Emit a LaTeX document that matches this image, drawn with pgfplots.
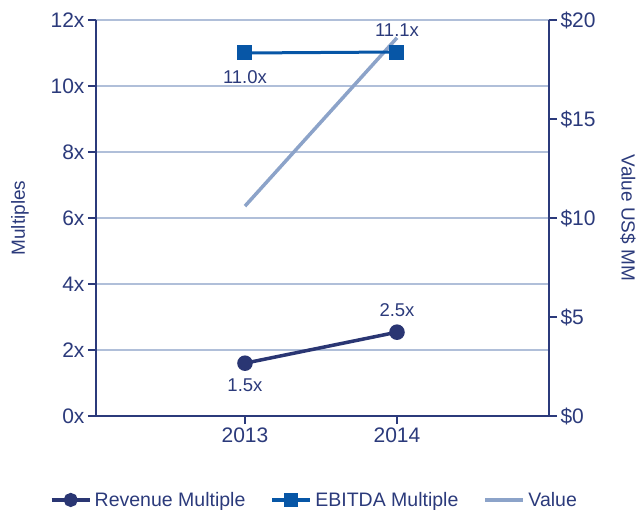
\documentclass[border=0pt]{standalone}
\usepackage{pgfplots}
\pgfplotsset{compat=1.18}
\usepackage{fontspec}
\setmainfont{Liberation Sans}
\definecolor{navy}{HTML}{2B3A7B}
\definecolor{revc}{HTML}{2A3673}
\definecolor{ebc}{HTML}{0756A6}
\definecolor{valc}{HTML}{8CA3C9}
\definecolor{gridc}{HTML}{B0BFD9}
\begin{document}
\begin{tikzpicture}
\pgfplotsset{common/.style={
  set layers, scale only axis, width=453pt, height=396pt,
  at={(0pt,0pt)}, anchor=south west,
  xmin=-0.98, xmax=2, ymin=0,
  axis line style={navy, line width=2.2pt},
  tick style={navy, line width=1.8pt}, major tick length=8pt,
  tick align=outside,
  ticklabel style={font=\fontsize{21}{24}\selectfont, text=navy},
  label style={font=\fontsize{19}{22}\selectfont, text=navy},
  legend image code/.code={\draw[mark repeat=2,mark phase=2,##1] plot coordinates {(0pt,0pt) (19pt,0pt) (38pt,0pt)};},
}}
\begin{axis}[common,
  axis x line=none, axis y line*=right,
  ymax=20, ytick={0,5,10,15,20},
  yticklabels={\$0,\$5,\$10,\$15,\$20},
  ylabel={Value US\$ MM},
  ylabel style={at={(axis description cs:1.1744,0.5)}, anchor=center, rotate=180},
]
\addplot[valc, line width=3.5pt] coordinates {(0,10.6) (1,19.1)};
\end{axis}
\begin{axis}[common,
  axis x line*=bottom, axis y line*=left,
  ymax=12, ytick={0,2,4,6,8,10,12},
  yticklabels={0x,2x,4x,6x,8x,10x,12x},
  xtick={0,1}, xticklabels={2013,2014},
  ymajorgrids, grid style={gridc, line width=2pt},
  ylabel={Multiples},
  ylabel style={at={(axis description cs:-0.1678,0.5)}, anchor=center},
  legend style={at={(axis description cs:0.483,-0.212)}, anchor=center,
    draw=none, fill=none, font=\fontsize{19.5}{22}\selectfont, text=navy,
    nodes={inner xsep=3pt},
    /tikz/every even column/.append style={column sep=22pt}},
  legend columns=3,
]
\addlegendimage{revc, line width=4pt, mark=*, mark size=5pt}
\addlegendentry{Revenue Multiple}
\addlegendimage{ebc, line width=4pt, mark=square*, mark size=5pt}
\addlegendentry{EBITDA Multiple}
\addlegendimage{valc, line width=4pt}
\addlegendentry{Value}
\addplot[revc, line width=3.5pt, mark=*, mark size=6pt, mark options={solid}] coordinates {(0,1.6) (1,2.54)};
\addplot[ebc, line width=3pt, mark=square*, mark size=6pt, mark options={solid}] coordinates {(0,11.0) (1,11.03)};
\node[font=\fontsize{18.5}{22}\selectfont, text=navy] at (axis cs:0,1.6) [yshift=-22pt] {1.5x};
\node[font=\fontsize{18.5}{22}\selectfont, text=navy] at (axis cs:1,2.54) [yshift=22pt] {2.5x};
\node[font=\fontsize{18.5}{22}\selectfont, text=navy] at (axis cs:0,11.0) [yshift=-24pt] {11.0x};
\node[font=\fontsize{18.5}{22}\selectfont, text=navy] at (axis cs:1,11.03) [yshift=22pt] {11.1x};
\end{axis}
\pgfresetboundingbox
\path[use as bounding box] (-96pt,-94pt) rectangle (548pt,416pt);
\end{tikzpicture}
\end{document}
